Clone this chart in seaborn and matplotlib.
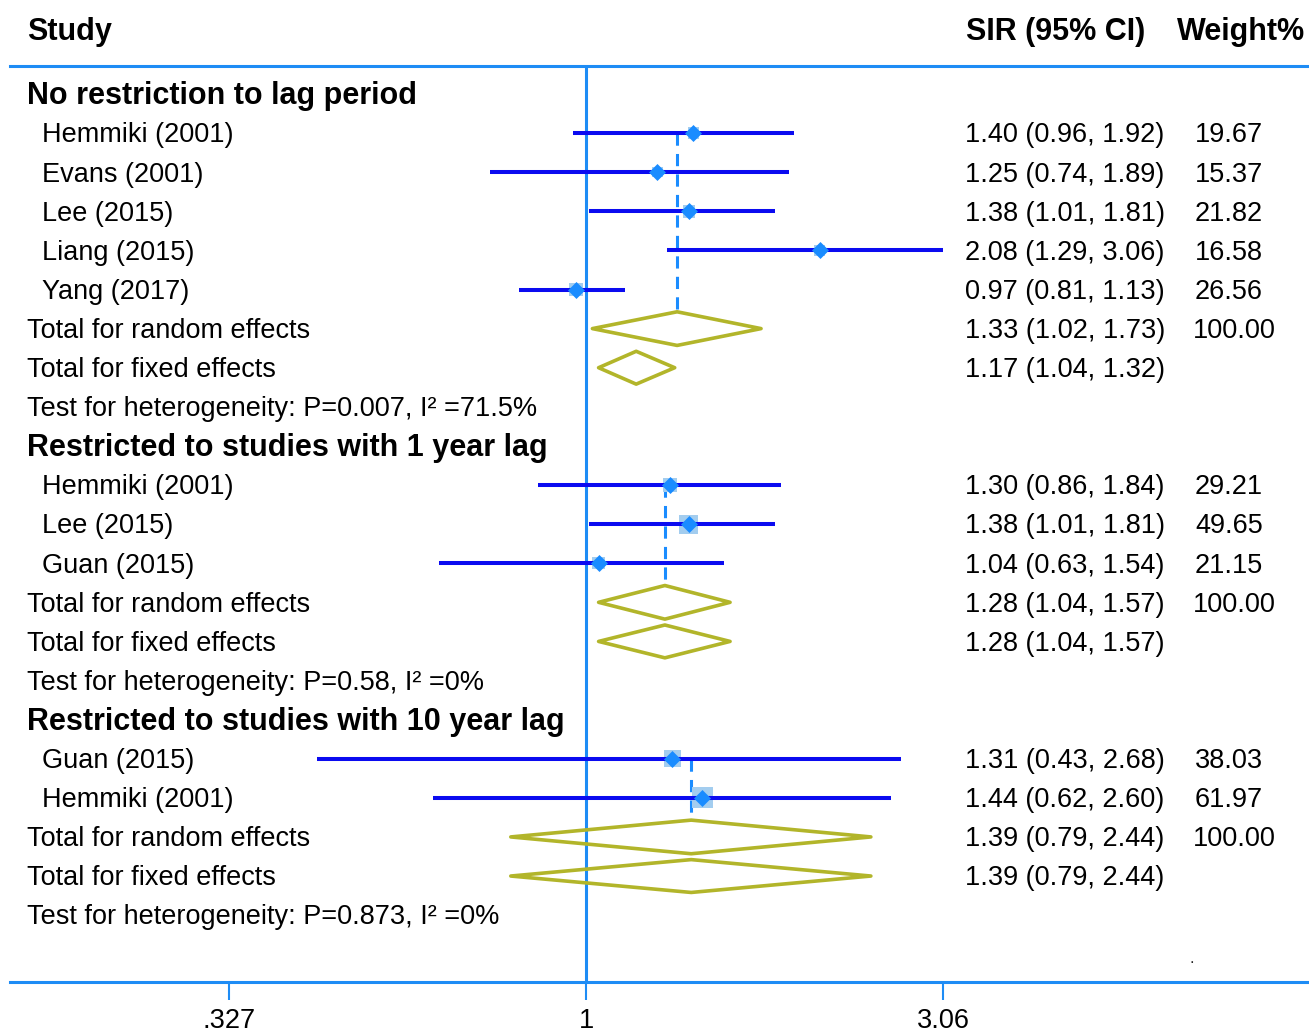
import numpy as np
import pandas as pd
import matplotlib
matplotlib.use("Agg")
import matplotlib.pyplot as plt
import seaborn as sns
from matplotlib.patches import Polygon
from matplotlib.transforms import blended_transform_factory
from matplotlib.ticker import NullLocator, FixedLocator, FixedFormatter

# ---------------- data ----------------
group_titles = ["No restriction to lag period",
                "Restricted to studies with 1 year lag",
                "Restricted to studies with 10 year lag"]

g1_studies = ["Hemmiki (2001)", "Evans (2001)", "Lee (2015)", "Liang (2015)", "Yang (2017)"]
g1_sir = [1.40, 1.25, 1.38, 2.08, 0.97]
g1_lo = [0.96, 0.74, 1.01, 1.29, 0.81]
g1_hi = [1.92, 1.89, 1.81, 3.06, 1.13]
g1_w = [19.67, 15.37, 21.82, 16.58, 26.56]

g2_studies = ["Hemmiki (2001)", "Lee (2015)", "Guan (2015)"]
g2_sir = [1.30, 1.38, 1.04]
g2_lo = [0.86, 1.01, 0.63]
g2_hi = [1.84, 1.81, 1.54]
g2_w = [29.21, 49.65, 21.15]

g3_studies = ["Guan (2015)", "Hemmiki (2001)"]
g3_sir = [1.31, 1.44]
g3_lo = [0.43, 0.62]
g3_hi = [2.68, 2.60]
g3_w = [38.03, 61.97]

random_est = [(1.33, 1.02, 1.73), (1.28, 1.04, 1.57), (1.39, 0.79, 2.44)]
fixed_est = [(1.17, 1.04, 1.32), (1.28, 1.04, 1.57), (1.39, 0.79, 2.44)]
het_labels = ["Test for heterogeneity: P=0.007, I² =71.5%",
              "Test for heterogeneity: P=0.58, I² =0%",
              "Test for heterogeneity: P=0.873, I² =0%"]

tick_values = [0.327, 1, 3.06]
tick_labels = [".327", "1", "3.06"]

groups = [
    (g1_studies, g1_sir, g1_lo, g1_hi, g1_w),
    (g2_studies, g2_sir, g2_lo, g2_hi, g2_w),
    (g3_studies, g3_sir, g3_lo, g3_hi, g3_w),
]

# ---------------- style ----------------
sns.set_theme(style="white")
plt.rcParams["font.family"] = ["Liberation Sans", "DejaVu Sans"]

W, H = 1309, 1032
fig = plt.figure(figsize=(W / 100, H / 100), dpi=100)
ax = fig.add_axes([10 / W, 50 / H, 1298 / W, 916 / H])
ax.set_xscale("log")
ax.set_xlim(0.1646, 9.594)
ax.set_ylim(22.71, -0.716)

CI_COL = "#0b0bf0"
PT_COL = "#1a8cff"
BOX_COL = "#a3cdef"
DIA_COL = "#b2b52a"
AX_COL = "#1e8cf5"
FS = 19.5
FSB = 22
TDY = 0.06  # small downward text offset (row units)

trans = blended_transform_factory(fig.transFigure, ax.transData)

def txt(px, row, s, bold=False, ha="left"):
    ax.text(px / W, row + TDY, s, transform=trans, ha=ha, va="center",
            fontsize=FSB if bold else FS, fontweight="bold" if bold else "normal",
            color="black", clip_on=False)

# header
txt(27, -1.65, "Study", bold=True)
txt(966, -1.65, "SIR (95% CI)", bold=True)
txt(1177, -1.65, "Weight%", bold=True)

# build study rows
records = []
row = 0
for gi, (studies, sir, lo, hi, w) in enumerate(groups):
    txt(27, row, group_titles[gi], bold=True)
    row += 1
    first = row
    for s, e, l, h, ww in zip(studies, sir, lo, hi, w):
        records.append(dict(row=row, study=s, sir=e, lo=l, hi=h, w=ww))
        txt(42, row, s)
        txt(965, row, f"{e:.2f} ({l:.2f}, {h:.2f})")
        txt(1195, row, f"{ww:.2f}")
        row += 1
    # random effects
    e, l, h = random_est[gi]
    rrow = row
    txt(27, row, "Total for random effects")
    txt(965, row, f"{e:.2f} ({l:.2f}, {h:.2f})")
    txt(1193, row, "100.00")
    ax.add_patch(Polygon([(l, row), (e, row - 0.43), (h, row), (e, row + 0.43)],
                         closed=True, fill=False, edgecolor=DIA_COL, lw=2.6,
                         joinstyle="round", zorder=3))
    ax.vlines(e, first, rrow - 0.43, colors=PT_COL, lw=2.2,
              linestyles=(0, (4, 2.7)), zorder=2)
    row += 1
    e, l, h = fixed_est[gi]
    txt(27, row, "Total for fixed effects")
    txt(965, row, f"{e:.2f} ({l:.2f}, {h:.2f})")
    ax.add_patch(Polygon([(l, row), (e, row - 0.42), (h, row), (e, row + 0.42)],
                         closed=True, fill=False, edgecolor=DIA_COL, lw=2.6,
                         joinstyle="round", zorder=3))
    row += 1
    txt(27, row, het_labels[gi])
    row += 1

df = pd.DataFrame(records)

# boxes (area proportional to weight)
ax.scatter(df["sir"], df["row"], s=3.78 * df["w"], marker="s", color=BOX_COL,
           linewidths=0, zorder=3)
# CI lines
ax.hlines(df["row"], df["lo"], df["hi"], colors=CI_COL, lw=2.9, zorder=4)
# point estimates
sns.scatterplot(data=df, x="sir", y="row", marker="D", s=75, color=PT_COL,
                linewidth=0, ax=ax, zorder=5, legend=False)

# line of no effect
ax.axvline(1, color=AX_COL, lw=2.2, zorder=1)

# stray dot
ax.text(1192 / W, 22.12, ".", transform=trans, fontsize=12, ha="center", va="center")

# axes styling
for side in ["left", "right"]:
    ax.spines[side].set_visible(False)
for side in ["top", "bottom"]:
    ax.spines[side].set_visible(True)
    ax.spines[side].set_color(AX_COL)
    ax.spines[side].set_linewidth(2.2)
ax.xaxis.set_major_locator(FixedLocator(tick_values))
ax.xaxis.set_major_formatter(FixedFormatter(tick_labels))
ax.xaxis.set_minor_locator(NullLocator())
ax.tick_params(axis="x", which="major", bottom=True, top=False, direction="out",
               length=13, width=1.5, color=AX_COL, labelsize=FS, labelcolor="black",
               pad=5.5)
ax.set_yticks([])
ax.set_xlabel("")
ax.set_ylabel("")
ax.grid(False)

fig.savefig("out.png", dpi=100)
